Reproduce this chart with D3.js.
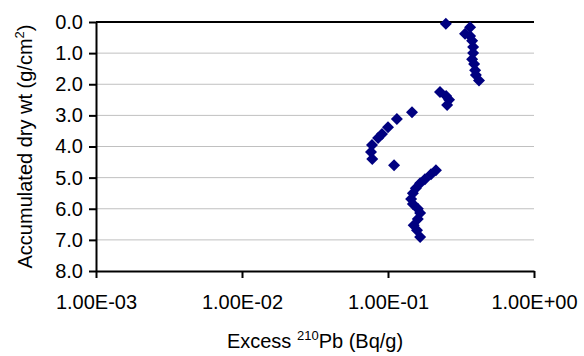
<!DOCTYPE html>
<html>
<head>
<meta charset="utf-8">
<script src="https://cdn.jsdelivr.net/npm/d3@7"></script>
<style>
  body { margin: 0; background: #fff; }
  svg { display: block; font-family: Arial, "Liberation Sans", sans-serif; }
</style>
</head>
<body>
<div id="chart-container"></div>
<script>
// Accumulated dry weight (g/cm2)
const depth = [0.06, 0.17, 0.38, 0.45, 0.6, 0.8, 1.0, 1.2, 1.35, 1.55, 1.7, 1.88,
    2.25, 2.38, 2.5, 2.67, 2.9, 3.12, 3.38, 3.6, 3.73, 3.95, 4.18, 4.4, 4.6,
    4.76, 4.89, 5.05, 5.18, 5.34, 5.5, 5.69, 5.85, 6.0, 6.14, 6.33, 6.53, 6.69, 6.91];
// Excess 210Pb (Bq/g)
const excessPb = [0.249, 0.365, 0.337, 0.365, 0.377, 0.383, 0.383, 0.377, 0.389, 0.395, 0.40, 0.42,
    0.227, 0.25, 0.262, 0.254, 0.146, 0.115, 0.10, 0.091, 0.0855, 0.0777, 0.0765, 0.078, 0.11,
    0.213, 0.197, 0.179, 0.166, 0.155, 0.148, 0.144, 0.148, 0.16, 0.166, 0.16, 0.15, 0.158, 0.166];

const xTicks = [1e-3, 1e-2, 1e-1, 1];
const xTickLabels = ['1.00E-03', '1.00E-02', '1.00E-01', '1.00E+00'];
const yTicks = [0, 1, 2, 3, 4, 5, 6, 7, 8];

const WIDTH = 584, HEIGHT = 356;
const FONT_SIZE = 20;

const canvas = d3.select('#chart-container').append('svg')
    .attr('width', WIDTH)
    .attr('height', HEIGHT);

const xScale = d3.scaleLog().domain([1e-3, 1]).range([96, 534]);
const yScale = d3.scaleLinear().domain([0, 8]).range([22, 271]);

// Gridlines (the one at 0 is drawn black like the reference)
canvas.append('g')
    .selectAll('line')
    .data(yTicks.slice(0, -1))
    .enter()
    .append('line')
        .attr('x1', xScale.range()[0])
        .attr('x2', xScale.range()[1])
        .attr('y1', d => yScale(d))
        .attr('y2', d => yScale(d))
        .attr('stroke', d => d === 0 ? '#000' : '#c0c0c0')
        .attr('stroke-width', d => d === 0 ? 2 : 1);

// y axis
const yAxis = d3.axisLeft(yScale)
    .tickValues(yTicks)
    .tickFormat(d3.format('.1f'))
    .tickSize(7)
    .tickSizeOuter(0);
const yG = canvas.append('g')
    .attr('transform', `translate(${xScale.range()[0]},0)`)
    .call(yAxis);
yG.select('.domain').attr('stroke-width', 2);
yG.selectAll('.tick line').attr('stroke-width', 2);
yG.selectAll('.tick text')
    .attr('font-size', FONT_SIZE)
    .attr('font-family', 'Arial, "Liberation Sans", sans-serif')
    .attr('fill', '#000')
    .attr('x', -13);

// x axis
const xAxis = d3.axisBottom(xScale)
    .tickValues(xTicks)
    .tickFormat((d, i) => xTickLabels[i])
    .tickSize(7)
    .tickSizeOuter(0);
const xG = canvas.append('g')
    .attr('transform', `translate(0,${yScale.range()[1]})`)
    .call(xAxis);
xG.select('.domain').attr('stroke-width', 2);
xG.selectAll('.tick line').attr('stroke-width', 2);
xG.selectAll('.tick text')
    .attr('font-size', FONT_SIZE)
    .attr('font-family', 'Arial, "Liberation Sans", sans-serif')
    .attr('fill', '#000')
    .attr('y', 24)
    .attr('dy', '0.71em');

// Axis titles
const xMid = (xScale.range()[0] + xScale.range()[1]) / 2;
const xTitle = canvas.append('text')
    .attr('x', xMid)
    .attr('y', 348)
    .attr('font-size', FONT_SIZE)
    .attr('text-anchor', 'middle')
    .attr('fill', '#000');
xTitle.append('tspan').text('Excess ');
xTitle.append('tspan').attr('font-size', 13).attr('dy', -8).text('210');
xTitle.append('tspan').attr('dy', 8).text('Pb (Bq/g)');

const yMid = (yScale.range()[0] + yScale.range()[1]) / 2;
const yTitle = canvas.append('text')
    .attr('transform', `translate(32,${yMid}) rotate(-90)`)
    .attr('font-size', FONT_SIZE)
    .attr('text-anchor', 'middle')
    .attr('fill', '#000');
yTitle.append('tspan').text('Accumulated dry wt (g/cm');
yTitle.append('tspan').attr('font-size', 13).attr('dy', -8).text('2');
yTitle.append('tspan').attr('dy', 8).text(')');

// Diamond markers
const diamond = d3.symbol().type(d3.symbolSquare).size(72);
canvas.append('g')
    .selectAll('path')
    .data(depth.map((d, i) => [excessPb[i], d]))
    .enter()
    .append('path')
        .attr('d', diamond)
        .attr('transform', d => `translate(${xScale(d[0])},${yScale(d[1])}) rotate(45)`)
        .attr('fill', '#000080');
</script>
</body>
</html>
